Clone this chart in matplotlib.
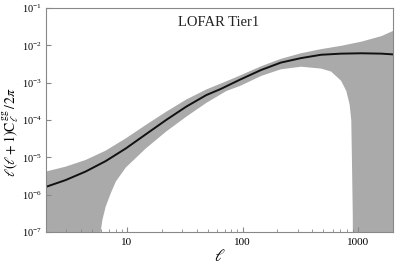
import numpy as np
import matplotlib
matplotlib.use("Agg")
import matplotlib.pyplot as plt
from matplotlib.ticker import ScalarFormatter, NullLocator

plt.rcParams['font.family'] = ['Liberation Serif', 'DejaVu Serif']
plt.rcParams['mathtext.fontset'] = 'stix'

# central curve: ell and log10 of l(l+1)C/2pi
ell = [2, 2.95, 4.4, 6.56, 9.8, 14.6, 21.8, 32.6, 48.6, 64.4, 96, 144, 214, 319, 476, 711, 1061, 1585, 2000]
cl_log = [-5.79, -5.61, -5.38, -5.10, -4.76, -4.38, -4.00, -3.64, -3.33, -3.17, -2.91, -2.66, -2.46,
          -2.34, -2.25, -2.22, -2.21, -2.22, -2.24]

# upper edge of the shaded band
ell_up = [2, 2.95, 4.4, 6.56, 9.8, 14.6, 21.8, 32.6, 48.6, 72.6, 96, 144, 214, 319, 476, 711, 1061, 1585, 2000]
up_log = [-5.38, -5.25, -5.07, -4.82, -4.49, -4.13, -3.78, -3.45, -3.18, -2.96, -2.80, -2.56, -2.36,
          -2.21, -2.10, -2.01, -1.90, -1.75, -1.61]

# lower edge of the band (falls out of the axes below l~6 and above l~900)
ell_lo = [2, 5.9, 5.94, 6.14, 6.56, 7.26, 8.02, 9.8, 14.6, 21.8, 32.6, 48.6, 72.6, 96, 144, 214, 319,
          476, 582, 711, 787, 841, 869, 880, 895, 905, 2000]
lo_log = [-9, -9, -7.0, -6.68, -6.32, -5.96, -5.65, -5.27, -4.76, -4.31, -3.91, -3.54, -3.22, -3.08,
          -2.82, -2.64, -2.57, -2.62, -2.70, -2.95, -3.22, -3.58, -4.0, -5.0, -6.5, -9, -9]

fig = plt.figure(figsize=(4.07, 2.71), dpi=100)
ax = fig.add_axes([0.113, 0.144, 0.853, 0.826])

band_x = list(ell_up) + list(ell_lo[::-1])
band_y = [10 ** v for v in up_log] + [10 ** v for v in lo_log[::-1]]
ax.fill(band_x, band_y, color='#aaaaaa', lw=0)
ax.plot(ell, [10 ** v for v in cl_log], color='#111111', lw=1.4)

ax.set_xscale('log')
ax.set_yscale('log')
ax.set_xlim(2, 2000)
ax.set_ylim(1e-7, 1e-1)
ax.set_yticks([10.0 ** k for k in range(-7, 0)])
ax.yaxis.set_minor_locator(NullLocator())
ax.xaxis.set_major_formatter(ScalarFormatter())

for s in ax.spines.values():
    s.set_color('#888888')
    s.set_linewidth(0.8)
ax.tick_params(which='both', direction='in', color='#888888', labelsize=8, pad=4)
ax.tick_params(axis='y', pad=3, labelsize=7.5)
ax.tick_params(which='major', length=3.5)
ax.tick_params(which='minor', length=2)

ax.set_xlabel(r'$\ell$', fontsize=12, labelpad=2)
fig.text(11 / 407, 0.513, r'$\ell(\ell+1)\mathrm{C}_\ell^{\,\mathrm{gg}}\,/\,2\pi$',
         rotation=90, ha='center', va='center', fontsize=10)
ax.text(0.496, 0.9375, 'LOFAR Tier1', transform=ax.transAxes, ha='center', va='center',
        fontsize=10.5, color='#222222')

fig.savefig('out.png', dpi=100)
